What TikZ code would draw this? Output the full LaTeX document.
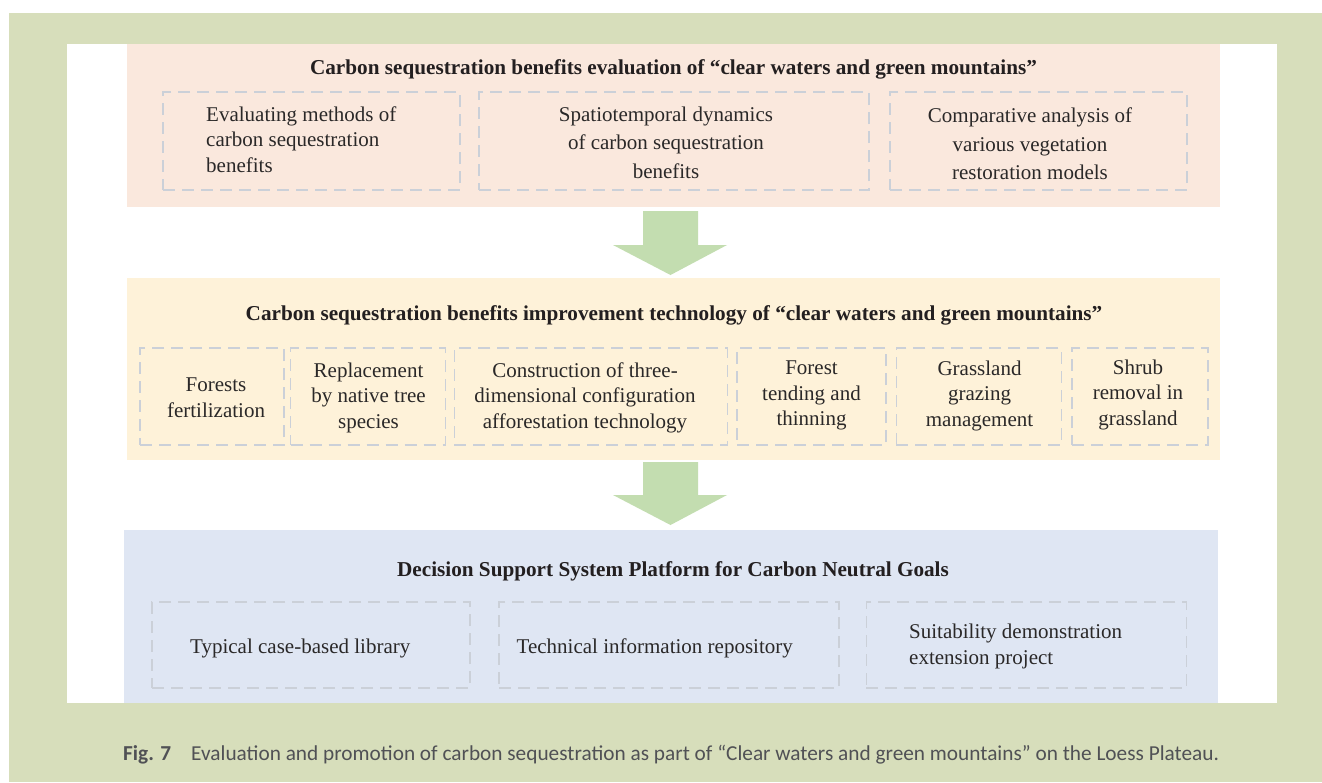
\documentclass[tikz,border=0pt]{standalone}
\usepackage{fontspec}
\setmainfont{Liberation Serif}
\newfontfamily\capfont{Carlito}
\definecolor{bggreen}{HTML}{D7DEBB}
\definecolor{pinkband}{HTML}{FAE8DD}
\definecolor{yellowband}{HTML}{FEF2D9}
\definecolor{blueband}{HTML}{DFE6F3}
\definecolor{arrowgreen}{HTML}{C3DDB0}
\definecolor{dashgrey}{HTML}{CBD0D8}
\definecolor{titlec}{HTML}{231F20}
\definecolor{bodyc}{HTML}{2A2828}
\definecolor{capc}{HTML}{505155}
\tikzset{
  band/.style n args={2}{fill=#1, draw=none, minimum width=#2, inner sep=0pt},
  dbox/.style n args={2}{draw=dashgrey, line width=1.4pt, dash pattern=on 12pt off 7pt,
     minimum width=#1, minimum height=#2, inner sep=0pt},
  ttl/.style={font=\fontsize{21.2}{25}\selectfont\bfseries, text=titlec, inner sep=0pt, anchor=base},
  body/.style={font=\fontsize{21}{#1}\selectfont, text=bodyc, inner sep=0pt, align=center},
  body/.default=25.5,
  blockarrow/.style={fill=arrowgreen, draw=none},
}
\begin{document}
\begin{tikzpicture}[x=1pt, y=-1pt]
\useasboundingbox (0,0) rectangle (1322,782);
% backgrounds
\fill[bggreen] (9,13) rectangle (1322,782);
\fill[white] (67,44) rectangle (1277,703);

% bands
\node[band={pinkband}{1093}, minimum height=163] (band1) at (673.5,125.5) {};
\node[band={yellowband}{1093}, minimum height=182] (band2) at (673.5,369) {};
\node[band={blueband}{1094}, minimum height=173] (band3) at (671,616.5) {};

% titles
\node[ttl] (title1) at (673.5,74) {Carbon sequestration benefits evaluation of “clear waters and green mountains”};
\node[ttl] (title2) at (674,320) {Carbon sequestration benefits improvement technology of “clear waters and green mountains”};
\node[ttl] (title3) at (673,576) {Decision Support System Platform for Carbon Neutral Goals};

% top row
\node[dbox={297}{98}] (t1) at (311.5,141) {};
\node[dbox={390}{98}] (t2) at (674,141) {};
\node[dbox={297}{98}] (t3) at (1038.5,141) {};
\node[body, align=left, anchor=west] (t1txt) at (206,139.5) {Evaluating methods of\\carbon sequestration\\benefits};
\node[body=28.5] (t2txt) at (666,142.5) {Spatiotemporal dynamics\\of carbon sequestration\\benefits};
\node[body=28.5] (t3txt) at (1030,144) {Comparative analysis of\\various vegetation\\restoration models};

% middle row
\node[dbox={144}{97}] (m1) at (212,396.5) {};
\node[dbox={155}{97}] (m2) at (368,396.5) {};
\node[dbox={273.5}{97}] (m3) at (591,396.5) {};
\node[dbox={149}{97}] (m4) at (811.5,396.5) {};
\node[dbox={165.5}{97}] (m5) at (979,396.5) {};
\node[dbox={136}{97}] (m6) at (1140,396.5) {};
\node[body] (m1txt) at (216,397.5) {Forests\\fertilization};
\node[body] (m2txt) at (368.5,397.5) {Replacement\\by native tree\\species};
\node[body] (m3txt) at (585,397.5) {Construction of three-\\dimensional configuration\\afforestation technology};
\node[body] (m4txt) at (811.5,395.5) {Forest\\tending and\\thinning};
\node[body] (m5txt) at (979.5,395.5) {Grassland\\grazing\\management};
\node[body] (m6txt) at (1138,394.5) {Shrub\\removal in\\grassland};

% bottom row
\node[dbox={318}{86}] (b1) at (311,645) {};
\node[dbox={340}{86}] (b2) at (669,645) {};
\node[dbox={320.5}{86}] (b3) at (1026.5,645) {};
\node[body, anchor=west] (b1txt) at (190,648) {Typical case-based library};
\node[body, anchor=west] (b2txt) at (516.5,648) {Technical information repository};
\node[body=26, align=left, anchor=west] (b3txt) at (909,646) {Suitability demonstration\\extension project};

% block arrows between bands
\fill[blockarrow] (643,211) -- (698,211) -- (698,245) -- (727,245) -- (670.5,275) -- (613,245) -- (643,245) -- cycle;
\fill[blockarrow] (643,462) -- (698,462) -- (698,495) -- (727,495) -- (670.5,525) -- (613,495) -- (643,495) -- cycle;

% caption
\node[anchor=base west, inner sep=0pt, text=capc, font=\capfont\fontsize{21.3}{25}\selectfont] (caption) at (123,760)
  {\textbf{Fig. 7}\hspace{20pt}Evaluation and promotion of carbon sequestration as part of “Clear waters and green mountains” on the Loess Plateau.};
\end{tikzpicture}
\end{document}
